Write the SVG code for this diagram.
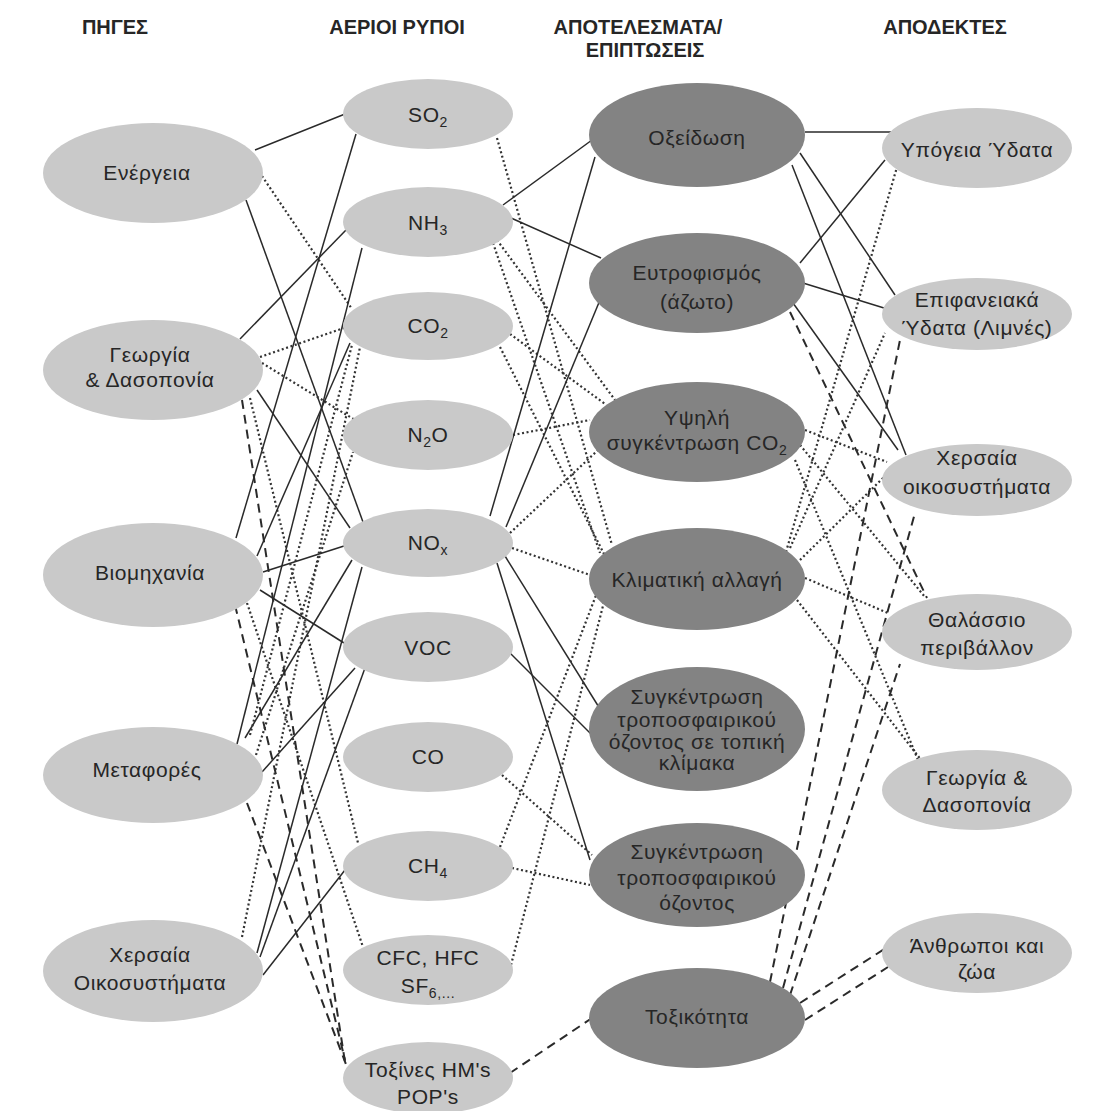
<svg xmlns="http://www.w3.org/2000/svg" width="1104" height="1111" viewBox="0 0 1104 1111">
<style>
text{font-family:"Liberation Sans",Arial,sans-serif;fill:#262626;text-anchor:middle}
.t{font-size:21px;letter-spacing:0.6px}
.h{font-size:20px;font-weight:bold}
.sub{font-size:14px}
.n1{fill:#c9c9c9}
.n3{fill:#838383}
.s{stroke:#2a2a2a;stroke-width:1.5;fill:none}
.d{stroke:#333;stroke-width:2.2;stroke-dasharray:2 2.6;fill:none}
.ds{stroke:#2a2a2a;stroke-width:2;stroke-dasharray:9 6;fill:none}
</style>
<rect width="1104" height="1111" fill="#ffffff"/>
<g id="headers">
<text class="h" x="115" y="34">ΠΗΓΕΣ</text>
<text class="h" x="397" y="34">ΑΕΡΙΟΙ ΡΥΠΟΙ</text>
<text class="h" x="638" y="34">ΑΠΟΤΕΛΕΣΜΑΤΑ/</text>
<text class="h" x="645" y="57">ΕΠΙΠΤΩΣΕΙΣ</text>
<text class="h" x="945" y="34">ΑΠΟΔΕΚΤΕΣ</text>
</g>
<g id="connectors">
<path class="s" d="M255,150L345,114"/>
<path class="d" d="M262,176L352,309"/>
<path class="s" d="M246,200L363,522"/>
<path class="s" d="M240,339L346,230"/>
<path class="d" d="M260,357L344,328"/>
<path class="d" d="M262,363L355,420"/>
<path class="d" d="M250,398L358,843"/>
<path class="s" d="M257,390L350,528"/>
<path class="ds" d="M242,400L345,1062"/>
<path class="s" d="M236,538L356,134"/>
<path class="s" d="M257,556L350,343"/>
<path class="s" d="M263,572L344,546"/>
<path class="s" d="M260,590L344,643"/>
<path class="d" d="M247,603L363,947"/>
<path class="ds" d="M235,605L345,1060"/>
<path class="s" d="M237,744L362,248"/>
<path class="s" d="M262,772L355,668"/>
<path class="s" d="M245,738L352,560"/>
<path class="d" d="M250,735L352,345"/>
<path class="d" d="M256,755L353,452"/>
<path class="ds" d="M247,803L347,1067"/>
<path class="d" d="M242,937L360,347"/>
<path class="s" d="M257,953L362,567"/>
<path class="s" d="M260,957L365,668"/>
<path class="s" d="M263,975L345,870"/>
<path class="d" d="M497,138L612,545"/>
<path class="s" d="M503,205L592,140"/>
<path class="s" d="M511,218L601,258"/>
<path class="d" d="M497,240L615,400"/>
<path class="d" d="M493,243L600,553"/>
<path class="d" d="M510,334L605,404"/>
<path class="d" d="M500,347L605,556"/>
<path class="d" d="M513,435L590,420"/>
<path class="s" d="M490,516L595,157"/>
<path class="s" d="M506,527L600,300"/>
<path class="d" d="M510,533L598,450"/>
<path class="d" d="M512,548L590,575"/>
<path class="s" d="M505,556L605,717"/>
<path class="s" d="M497,563L590,860"/>
<path class="s" d="M510,653L592,735"/>
<path class="d" d="M502,775L592,855"/>
<path class="d" d="M500,847L598,590"/>
<path class="d" d="M512,868L590,885"/>
<path class="d" d="M511,965L605,598"/>
<path class="ds" d="M510,1073L592,1018"/>
<path class="s" d="M805,132L891,132"/>
<path class="s" d="M800,153L895,295"/>
<path class="s" d="M792,165L906,455"/>
<path class="s" d="M800,263L885,160"/>
<path class="s" d="M803,283L884,308"/>
<path class="s" d="M793,303L898,450"/>
<path class="ds" d="M790,312L927,598"/>
<path class="d" d="M805,430L887,462"/>
<path class="d" d="M800,445L925,597"/>
<path class="d" d="M795,460L918,760"/>
<path class="d" d="M786,552L897,167"/>
<path class="d" d="M790,548L885,333"/>
<path class="d" d="M800,560L884,477"/>
<path class="d" d="M805,578L888,613"/>
<path class="d" d="M797,600L925,765"/>
<path class="ds" d="M770,982L900,340"/>
<path class="ds" d="M783,988L915,513"/>
<path class="ds" d="M790,995L900,664"/>
<path class="ds" d="M800,1003L886,948"/>
<path class="ds" d="M805,1020L888,967"/>
</g>
<g id="energeia"><ellipse class="n1" cx="153" cy="173" rx="110" ry="50"/><text class="t" x="147" y="180">Ενέργεια</text></g>
<g id="georgia-src"><ellipse class="n1" cx="153" cy="370" rx="110" ry="50"/><text class="t" x="150" y="362">Γεωργία</text><text class="t" x="150" y="387">&amp; Δασοπονία</text></g>
<g id="viomichania"><ellipse class="n1" cx="153" cy="575" rx="110" ry="52"/><text class="t" x="150" y="580">Βιομηχανία</text></g>
<g id="metafores"><ellipse class="n1" cx="153" cy="775" rx="110" ry="48"/><text class="t" x="147" y="777">Μεταφορές</text></g>
<g id="chersaia-src"><ellipse class="n1" cx="153" cy="971" rx="110" ry="51"/><text class="t" x="150" y="962">Χερσαία</text><text class="t" x="150" y="990">Οικοσυστήματα</text></g>

<g id="so2"><ellipse class="n1" cx="428" cy="114" rx="85" ry="35"/><text class="t" x="428" y="122">SO<tspan class="sub" dy="5">2</tspan></text></g>
<g id="nh3"><ellipse class="n1" cx="428" cy="222" rx="85" ry="35"/><text class="t" x="428" y="230">NH<tspan class="sub" dy="5">3</tspan></text></g>
<g id="co2"><ellipse class="n1" cx="428" cy="326" rx="85" ry="34"/><text class="t" x="428" y="333">CO<tspan class="sub" dy="5">2</tspan></text></g>
<g id="n2o"><ellipse class="n1" cx="428" cy="435" rx="85" ry="35"/><text class="t" x="428" y="442">N<tspan class="sub" dy="5">2</tspan><tspan dy="-5">O</tspan></text></g>
<g id="nox"><ellipse class="n1" cx="428" cy="543" rx="85" ry="34"/><text class="t" x="428" y="550">NO<tspan class="sub" dy="5">x</tspan></text></g>
<g id="voc"><ellipse class="n1" cx="428" cy="647" rx="85" ry="35"/><text class="t" x="428" y="655">VOC</text></g>
<g id="co"><ellipse class="n1" cx="428" cy="757" rx="85" ry="35"/><text class="t" x="428" y="764">CO</text></g>
<g id="ch4"><ellipse class="n1" cx="428" cy="866" rx="85" ry="35"/><text class="t" x="428" y="873">CH<tspan class="sub" dy="5">4</tspan></text></g>
<g id="cfc"><ellipse class="n1" cx="428" cy="970" rx="85" ry="35"/><text class="t" x="428" y="965">CFC, HFC</text><text class="t" x="428" y="993">SF<tspan class="sub" dy="5">6,...</tspan></text></g>
<g id="toxines"><ellipse class="n1" cx="428" cy="1078" rx="85" ry="36"/><text class="t" x="428" y="1077">Τοξίνες HM's</text><text class="t" x="428" y="1104">POP's</text></g>

<g id="oxeidosi"><ellipse class="n3" cx="697" cy="135" rx="108" ry="52"/><text class="t" x="697" y="145">Οξείδωση</text></g>
<g id="eutrofismos"><ellipse class="n3" cx="697" cy="283" rx="108" ry="50"/><text class="t" x="697" y="280">Ευτροφισμός</text><text class="t" x="697" y="309">(άζωτο)</text></g>
<g id="ypsili-co2"><ellipse class="n3" cx="697" cy="432" rx="108" ry="50"/><text class="t" x="697" y="425">Υψηλή</text><text class="t" x="697" y="450">συγκέντρωση CO<tspan class="sub" dy="5">2</tspan></text></g>
<g id="klimatiki"><ellipse class="n3" cx="697" cy="579" rx="108" ry="51"/><text class="t" x="697" y="587">Κλιματική αλλαγή</text></g>
<g id="ozone-local"><ellipse class="n3" cx="697" cy="729" rx="108" ry="62"/><text class="t" x="697" y="704">Συγκέντρωση</text><text class="t" x="697" y="727">τροποσφαιρικού</text><text class="t" x="697" y="749">όζοντος σε τοπική</text><text class="t" x="697" y="770">κλίμακα</text></g>
<g id="ozone"><ellipse class="n3" cx="697" cy="875" rx="108" ry="52"/><text class="t" x="697" y="859">Συγκέντρωση</text><text class="t" x="697" y="885">τροποσφαιρικού</text><text class="t" x="697" y="910">όζοντος</text></g>
<g id="toxikotita"><ellipse class="n3" cx="697" cy="1018" rx="108" ry="50"/><text class="t" x="697" y="1024">Τοξικότητα</text></g>

<g id="ypogeia"><ellipse class="n1" cx="977" cy="148" rx="95" ry="40"/><text class="t" x="977" y="157">Υπόγεια Ύδατα</text></g>
<g id="epifaneiaka"><ellipse class="n1" cx="977" cy="314" rx="95" ry="36"/><text class="t" x="977" y="307">Επιφανειακά</text><text class="t" x="977" y="335">Ύδατα (Λιμνές)</text></g>
<g id="chersaia-rec"><ellipse class="n1" cx="977" cy="480" rx="95" ry="36"/><text class="t" x="977" y="465">Χερσαία</text><text class="t" x="977" y="494">οικοσυστήματα</text></g>
<g id="thalassio"><ellipse class="n1" cx="977" cy="632" rx="95" ry="38"/><text class="t" x="977" y="627">Θαλάσσιο</text><text class="t" x="977" y="655">περιβάλλον</text></g>
<g id="georgia-rec"><ellipse class="n1" cx="977" cy="790" rx="95" ry="40"/><text class="t" x="977" y="785">Γεωργία &amp;</text><text class="t" x="977" y="812">Δασοπονία</text></g>
<g id="anthropoi"><ellipse class="n1" cx="977" cy="953" rx="95" ry="40"/><text class="t" x="977" y="953">Άνθρωποι και</text><text class="t" x="977" y="979">ζώα</text></g>
</svg>
